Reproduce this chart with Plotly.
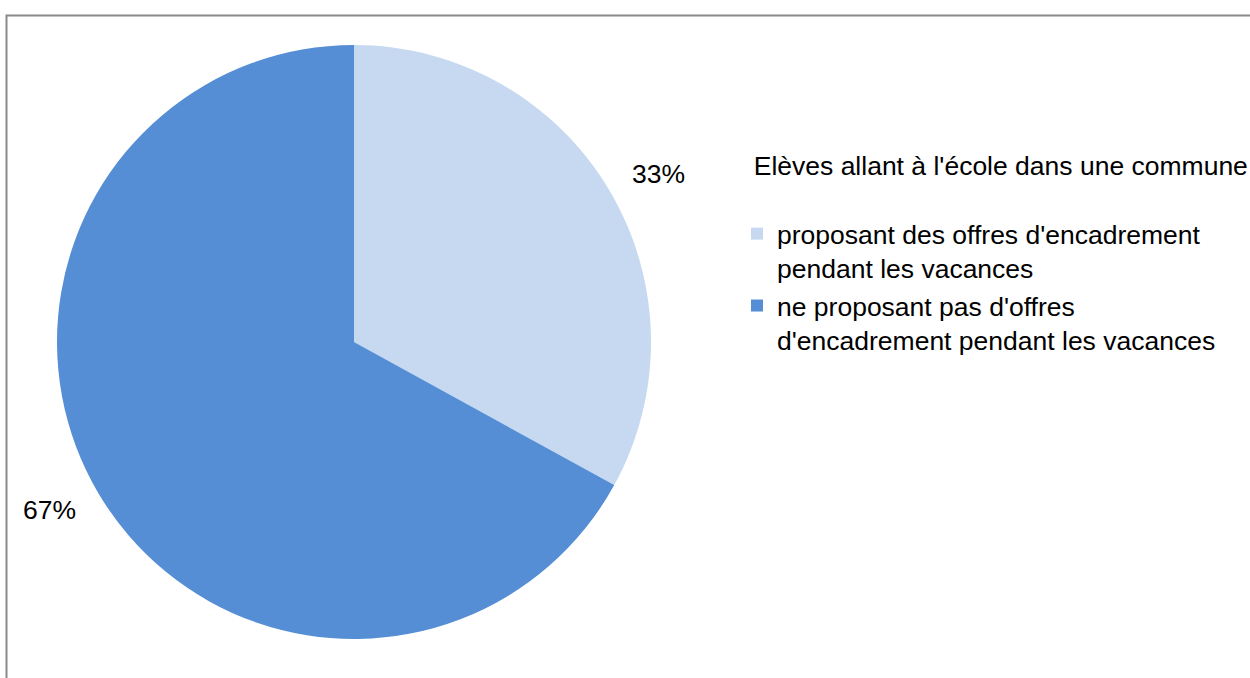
import math
import plotly.graph_objects as go

# Data
legend_title = "Elèves allant à l'école dans une commune"
categories = [
    "proposant des offres d'encadrement<br>pendant les vacances",
    "ne proposant pas d'offres<br>d'encadrement pendant les vacances",
]
shares = [33, 67]
colors = ["#C6D9F1", "#558ED5"]

# Page geometry (pixels)
W, H = 1250, 678
CX, CY, R = 354, 342, 297
FONT = "Liberation Sans, Arial, sans-serif"
FS = 26.5
LABEL_RADIUS = 1.17      # label distance from centre, in pie radii
LABEL_TURN = 1.7         # small clockwise nudge of the labels, degrees

fig = go.Figure(
    go.Pie(
        labels=categories,
        values=shares,
        sort=False,
        direction="clockwise",
        rotation=0,
        marker=dict(colors=colors, line=dict(width=0)),
        textinfo="none",
        hoverinfo="label+percent",
        domain=dict(
            x=[(CX - R) / W, (CX + R) / W],
            y=[(H - CY - R) / H, (H - CY + R) / H],
        ),
        showlegend=True,
    )
)

# Percentage labels placed outside each slice along its mid-angle
total = sum(shares)
start = 0.0
for v in shares:
    frac = v / total
    mid = (start + frac / 2) * 2 * math.pi + math.radians(LABEL_TURN)
    start += frac
    px = CX + LABEL_RADIUS * R * math.sin(mid)
    py = CY - LABEL_RADIUS * R * math.cos(mid)
    fig.add_annotation(
        x=px / W, y=1 - py / H, xref="paper", yref="paper",
        text=f"{round(frac * 100)}%", showarrow=False,
        font=dict(family=FONT, size=FS, color="#000000"),
        xanchor="center", yanchor="middle",
    )

# Outer frame of the chart area
fig.add_shape(
    type="rect", xref="paper", yref="paper",
    x0=6.5 / W, x1=1.02, y0=-0.02, y1=1 - 15.5 / H,
    line=dict(color="#898989", width=2), fillcolor="rgba(0,0,0,0)",
)

fig.update_layout(
    width=W, height=H,
    margin=dict(l=0, r=0, t=0, b=0, autoexpand=False),
    paper_bgcolor="white", plot_bgcolor="white",
    font=dict(family=FONT, size=FS, color="#000000"),
    legend=dict(
        x=737 / W, y=1 - 141 / H, xanchor="left", yanchor="top",
        title=dict(text="&nbsp;&nbsp;" + legend_title + "<br> ",
                   font=dict(family=FONT, size=FS)),
        font=dict(family=FONT, size=FS),
        valign="top",
        bgcolor="rgba(0,0,0,0)",
        itemclick=False,
    ),
)

fig.write_html("out.html")
